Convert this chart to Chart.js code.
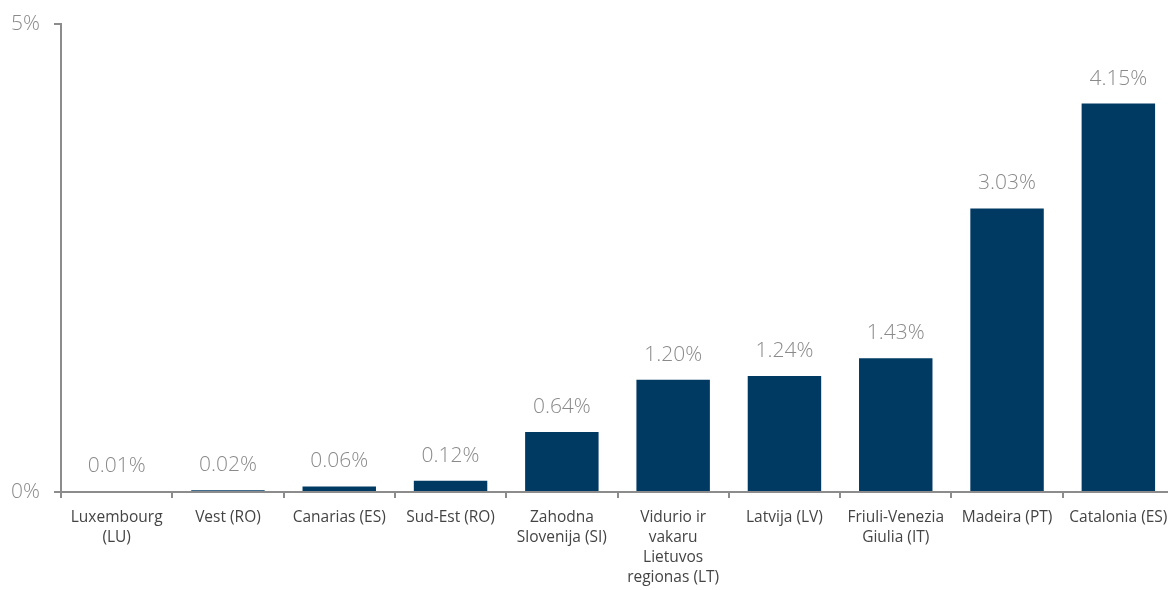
<!DOCTYPE html>
<html>
<head>
<meta charset="utf-8">
<script src="https://cdn.jsdelivr.net/npm/chart.js@4/dist/chart.umd.min.js"></script>
<style>
  html, body { margin: 0; padding: 0; background: #fff; overflow: hidden; }
  #wrap { width: 1168px; height: 590px; overflow: hidden; }
</style>
</head>
<body>
<div id="wrap"><canvas id="myChart" width="1174" height="590"></canvas></div>
<script>
// regions, in the order they are plotted
const regions = [
  ["Luxembourg", "(LU)"],
  "Vest (RO)",
  "Canarias (ES)",
  "Sud-Est (RO)",
  ["Zahodna", "Slovenija (SI)"],
  ["Vidurio ir", "vakaru", "Lietuvos", "regionas (LT)"],
  "Latvija (LV)",
  ["Friuli-Venezia", "Giulia (IT)"],
  "Madeira (PT)",
  "Catalonia (ES)"
];
// share, in percent
const shares = [0.01, 0.02, 0.06, 0.12, 0.64, 1.20, 1.24, 1.43, 3.03, 4.15];
const yTicks = [0, 5];

const axisGrey = '#8c8c8c';

// writes the value above each bar
const valueLabels = {
  id: 'valueLabels',
  afterDatasetsDraw(chart) {
    const ctx = chart.ctx;
    const meta = chart.getDatasetMeta(0);
    ctx.save();
    ctx.font = '300 21px "Open Sans"';
    ctx.fillStyle = '#8a8a8a';
    ctx.textAlign = 'center';
    ctx.textBaseline = 'middle';
    meta.data.forEach((bar, i) => {
      ctx.fillText(shares[i].toFixed(2) + '%', bar.x, bar.y - 25);
    });
    ctx.restore();
  }
};

const config = {
  type: 'bar',
  data: {
    labels: regions,
    datasets: [{
      data: shares,
      backgroundColor: '#003a63',
      barPercentage: 0.66,
      categoryPercentage: 1
    }]
  },
  options: {
    responsive: false,
    animation: false,
    layout: { padding: { top: 24, left: 0, right: 0, bottom: 0 } },
    plugins: { legend: { display: false }, tooltip: { enabled: false } },
    scales: {
      x: {
        grid: { drawOnChartArea: false, color: axisGrey, tickLength: 6, lineWidth: 2 },
        border: { color: axisGrey, width: 2 },
        ticks: {
          color: '#444',
          font: { family: '"Open Sans"', size: 15.5, lineHeight: 1.31 },
          maxRotation: 0,
          autoSkip: false,
          padding: 9
        },
        afterFit(axis) {
          axis.height = 98;
          axis.paddingLeft = 0;
          axis.paddingRight = 0;
        }
      },
      y: {
        min: 0,
        max: 5,
        afterBuildTicks(axis) { axis.ticks = yTicks.map(v => ({ value: v })); },
        grid: { drawOnChartArea: false, color: axisGrey, tickLength: 7, lineWidth: 2 },
        border: { color: axisGrey, width: 2 },
        ticks: {
          color: '#8a8a8a',
          font: { family: '"Open Sans"', size: 21, weight: 300 },
          padding: 14,
          callback: v => v + '%'
        },
        afterFit(axis) {
          axis.width = 61;
          axis.paddingTop = 0;
          axis.paddingBottom = 0;
        }
      }
    }
  },
  plugins: [valueLabels]
};

const myChart = new Chart(document.getElementById('myChart'), config);
</script>
</body>
</html>
